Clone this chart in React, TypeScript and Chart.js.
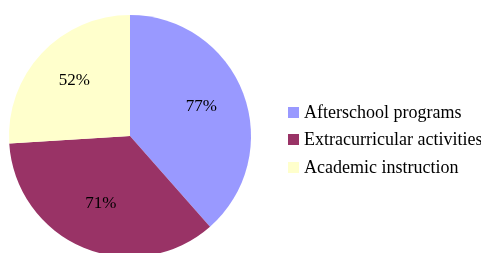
import React, { useEffect, useRef } from "react";
import { Chart, registerables } from "chart.js";

Chart.register(...registerables);

const categories = ["Afterschool programs", "Extracurricular activities", "Academic instruction"];
const values = [77, 71, 52];
const valueLabels = ["77%", "71%", "52%"];
const colors = ["#9999FF", "#993366", "#FFFFCC"];

const LABEL_FONT = '17px "Liberation Serif", "Times New Roman", serif';
const LEGEND_FONT = '18px "Liberation Serif", "Times New Roman", serif';

const labelPlugin = {
  id: "sliceLabels",
  afterDatasetsDraw(chart: any) {
    const ctx = chart.ctx;
    const meta = chart.getDatasetMeta(0);
    ctx.save();
    ctx.font = LABEL_FONT;
    ctx.fillStyle = "#000000";
    ctx.textAlign = "center";
    ctx.textBaseline = "middle";
    meta.data.forEach((arc: any, i: number) => {
      const mid = (arc.startAngle + arc.endAngle) / 2;
      const r = arc.outerRadius * 0.63;
      const x = arc.x + Math.cos(mid) * r;
      const y = arc.y + Math.sin(mid) * r - 3;
      ctx.fillText(valueLabels[i], x, y);
    });
    ctx.restore();
  },
};

const legendPlugin = {
  id: "sideLegend",
  afterDraw(chart: any) {
    const ctx = chart.ctx;
    const labels = chart.data.labels as string[];
    const bg = chart.data.datasets[0].backgroundColor as string[];
    ctx.save();
    ctx.font = LEGEND_FONT;
    ctx.textAlign = "left";
    ctx.textBaseline = "alphabetic";
    const x0 = 288;
    const tops = [107, 134, 162];
    labels.forEach((lab, i) => {
      ctx.fillStyle = bg[i];
      ctx.fillRect(x0, tops[i], 11, 11);
      ctx.fillStyle = "#000000";
      ctx.fillText(lab, x0 + 16, tops[i] + 11);
    });
    ctx.restore();
  },
};

export default function App() {
  const ref = useRef<HTMLCanvasElement>(null);
  useEffect(() => {
    if (!ref.current) return;
    const chart = new Chart(ref.current, {
      type: "pie",
      data: {
        labels: categories,
        datasets: [
          {
            data: values,
            backgroundColor: colors,
            borderWidth: 0,
          },
        ],
      },
      options: {
        animation: false,
        responsive: false,
        maintainAspectRatio: false,
        layout: { padding: { left: 9, top: 15, right: 230, bottom: 17 } },
        plugins: {
          legend: { display: false },
          tooltip: { enabled: false },
        },
      },
      plugins: [labelPlugin, legendPlugin],
    });
    return () => chart.destroy();
  }, []);
  return (
    <div style={{ position: "fixed", left: 0, top: 0, width: 481, height: 274, background: "#fff" }}>
      <canvas ref={ref} width={481} height={274} style={{ display: "block" }} />
    </div>
  );
}
